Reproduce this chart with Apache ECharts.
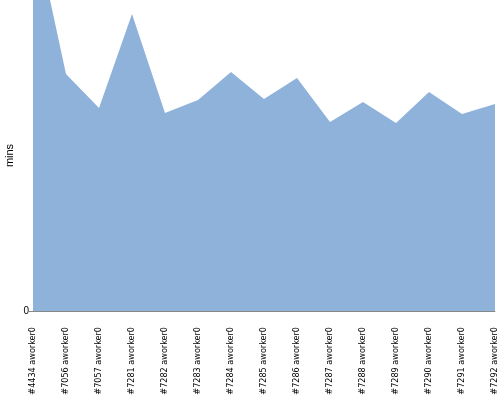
<!DOCTYPE html>
<html><head><meta charset="utf-8">
<script src="https://cdn.jsdelivr.net/npm/echarts@6/dist/echarts.min.js"></script>
<style>html,body{margin:0;padding:0;background:#fff}#c{width:500px;height:400px}</style>
</head><body><div id="c"></div>
<script>
var categories = ['#4434 aworker0','#7056 aworker0','#7057 aworker0','#7281 aworker0','#7282 aworker0','#7283 aworker0','#7284 aworker0','#7285 aworker0','#7286 aworker0','#7287 aworker0','#7288 aworker0','#7289 aworker0','#7290 aworker0','#7291 aworker0','#7292 aworker0'];
var values = [390, 237, 203, 297, 198, 211, 239, 212, 233, 189, 209, 188, 219, 197, 207];
var yMin = 0;
var yMax = 311;
var yTicks = [0];
var chart = echarts.init(document.getElementById('c'), null, {renderer:'canvas'});
chart.setOption({
  animation: false,
  grid: {left: 33, right: 5, top: 0, bottom: 89, containLabel: false, outerBoundsMode: 'none'},
  xAxis: {
    type: 'category', data: categories, boundaryGap: false,
    axisLine: {lineStyle: {color: '#888', width: 1}},
    axisTick: {show: false},
    axisLabel: {rotate: 90, interval: 0, margin: 16, fontSize: 9, color: '#000', fontFamily: 'DejaVu Sans Condensed, Liberation Sans Narrow, sans-serif'}
  },
  yAxis: {
    type: 'value', min: yMin, max: yMax,
    name: 'mins', nameLocation: 'middle', nameGap: 18, nameMoveOverlap: false,
    nameTextStyle: {fontSize: 11, color: '#000', fontFamily: 'Liberation Sans, sans-serif'},
    axisLine: {show: true, lineStyle: {color: '#888'}},
    axisTick: {show: true, length: 4, lineStyle: {color: '#888'}, customValues: yTicks},
    splitLine: {show: false},
    axisLabel: {fontSize: 10, color: '#000', margin: 4, customValues: yTicks}
  },
  series: [{
    type: 'line', data: values, symbol: 'none', clip: true,
    lineStyle: {width: 0, color: '#8fb2da'},
    itemStyle: {color: '#8fb2da'},
    areaStyle: {color: '#8fb2da', opacity: 1}
  }]
});
</script></body></html>
